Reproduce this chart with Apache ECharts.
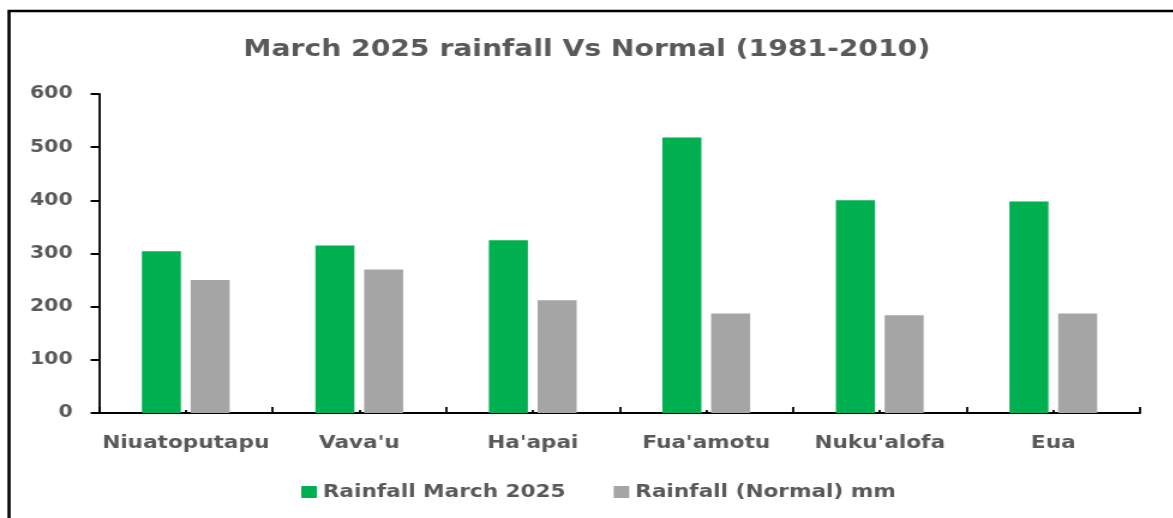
<!DOCTYPE html>
<html>
<head>
<meta charset="utf-8">
<script src="https://cdn.jsdelivr.net/npm/echarts@6/dist/echarts.min.js"></script>
<style>
  html, body { margin: 0; padding: 0; background: #fff; overflow: hidden; }
  /* the original picture is stretched sideways, so draw narrower and widen it */
  #main { width: 978px; height: 518px; transform: scaleX(1.2); transform-origin: 0 0; }
</style>
</head>
<body>
<div id="main"></div>
<script>
// data
var stations = ['Niuatoputapu', "Vava'u", "Ha'apai", "Fua'amotu", "Nuku'alofa", 'Eua'];
var rainMarch2025 = [304, 315, 325, 518, 400, 398];
var rainNormal = [250, 270, 212, 187, 184, 187];
var yTicks = [0, 100, 200, 300, 400, 500, 600];

var textColor = '#595959';
var font = 'DejaVu Sans';

var chart = echarts.init(document.getElementById('main'));

var option = {
  animation: false,
  backgroundColor: '#fff',
  color: ['#00b050', '#a5a5a5'],
  title: {
    text: 'March 2025 rainfall Vs Normal (1981-2010)',
    left: 'center',
    top: 33,
    textStyle: {
      color: textColor,
      fontFamily: font,
      fontWeight: 'bold',
      fontSize: 23.5
    }
  },
  legend: {
    left: 246,
    top: 478,
    itemWidth: 13,
    itemHeight: 12,
    itemGap: 40,
    icon: 'rect',
    textStyle: {
      color: textColor,
      fontFamily: font,
      fontWeight: 'bold',
      fontSize: 18
    },
    data: ['Rainfall March 2025', 'Rainfall (Normal) mm']
  },
  grid: {
    left: 82.5,
    right: 28,
    top: 94,
    bottom: 105,
    containLabel: false
  },
  xAxis: [
    {
      type: 'category',
      data: stations,
      axisLine: { lineStyle: { color: '#000', width: 2 } },
      axisTick: { show: true, inside: true, length: 6, lineStyle: { color: '#000', width: 1.8 } },
      axisLabel: {
        interval: 0,
        margin: 21,
        color: textColor,
        fontFamily: font,
        fontWeight: 'bold',
        fontSize: 18
      },
      splitLine: { show: false }
    },
    {
      // small marks in the middle of each category
      type: 'category',
      data: stations,
      position: 'bottom',
      axisLine: { show: false },
      axisTick: { show: true, inside: true, alignWithLabel: true, length: 3, lineStyle: { color: '#000', width: 1.8 } },
      axisLabel: { show: false },
      splitLine: { show: false }
    }
  ],
  yAxis: {
    type: 'value',
    min: yTicks[0],
    max: yTicks[yTicks.length - 1],
    interval: 100,
    axisLine: { show: true, lineStyle: { color: '#000', width: 1.8 } },
    axisTick: { show: true, length: 7, lineStyle: { color: '#000', width: 2 } },
    axisLabel: {
      margin: 22,
      padding: [3, 0, 0, 0],
      color: textColor,
      fontFamily: font,
      fontWeight: 'bold',
      fontSize: 17
    },
    splitLine: { show: false }
  },
  series: [
    {
      name: 'Rainfall March 2025',
      type: 'bar',
      barWidth: 32.5,
      barGap: '25%',
      data: rainMarch2025
    },
    {
      name: 'Rainfall (Normal) mm',
      type: 'bar',
      barWidth: 32.5,
      barGap: '25%',
      data: rainNormal
    }
  ],
  graphic: [
    {
      type: 'rect',
      silent: true,
      shape: { x: 7.5, y: 11, width: 1300, height: 700 },
      style: { fill: 'none', stroke: '#000', lineWidth: 2.6 }
    }
  ]
};

chart.setOption(option);
</script>
</body>
</html>
